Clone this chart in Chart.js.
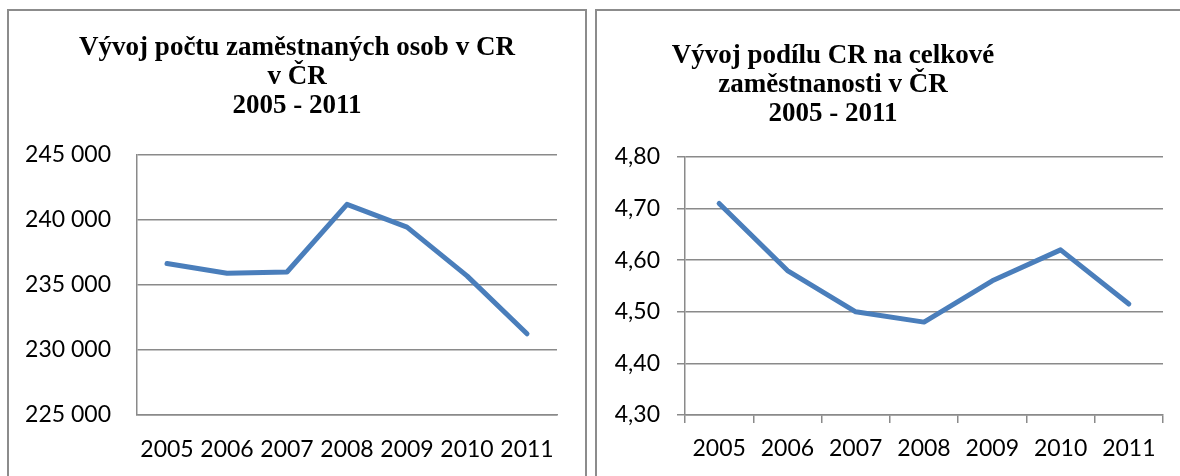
<!DOCTYPE html>
<html>
<head>
<meta charset="utf-8">
<script src="https://cdn.jsdelivr.net/npm/chart.js@4"></script>
<style>
  body { margin: 0; background: #fff; width: 1180px; height: 476px; overflow: hidden; position: relative; }
  .panel { position: absolute; border: 2px solid #8c8c8c; background: #fff; }
  #left-panel { left: 7px; top: 9px; width: 576px; height: 500px; }
  #right-panel { left: 595px; top: 9px; width: 700px; height: 500px; }
  canvas { position: absolute; }
  #left-chart { left: 8px; top: 10px; }
  #right-chart { left: 596px; top: 10px; }
</style>
</head>
<body>
<div class="panel" id="left-panel"></div>
<div class="panel" id="right-panel"></div>
<canvas id="left-chart" width="578" height="466"></canvas>
<canvas id="right-chart" width="584" height="466"></canvas>
<script>
// data
const years = ['2005', '2006', '2007', '2008', '2009', '2010', '2011'];
const employed = [236650, 235900, 236000, 241200, 239450, 235700, 231250];
const share = [4.71, 4.58, 4.50, 4.48, 4.56, 4.62, 4.515];

const leftTitle = ['Vývoj počtu zaměstnaných osob v CR', 'v ČR', '2005 - 2011'];
const rightTitle = ['Vývoj podílu CR na celkové', 'zaměstnanosti v ČR', '2005 - 2011'];

const gridGray = '#8a8a8a';
const lineBlue = '#4a7ebb';
const tickFont = { family: 'Lato', size: 23 };

// draws the bold serif title lines (Excel style)
const panelTitle = {
  id: 'panelTitle',
  afterDraw(chart, args, opts) {
    const ctx = chart.ctx;
    ctx.save();
    ctx.font = 'bold 27px "Liberation Serif"';
    ctx.fillStyle = '#000';
    ctx.textAlign = 'center';
    ctx.textBaseline = 'alphabetic';
    opts.lines.forEach((t, i) => {
      ctx.fillText(t, opts.x, opts.y + i * opts.lineHeight);
    });
    ctx.restore();
  }
};

function lineDataset(values) {
  return {
    data: values,
    borderColor: lineBlue,
    borderWidth: 5,
    pointRadius: 0,
    pointHoverRadius: 0,
    tension: 0,
    borderCapStyle: 'round',
    borderJoinStyle: 'round',
    fill: false
  };
}

// left chart: employed persons
new Chart(document.getElementById('left-chart'), {
  type: 'line',
  data: { labels: years, datasets: [lineDataset(employed)] },
  plugins: [panelTitle],
  options: {
    responsive: false,
    animation: false,
    layout: { padding: { left: 0, right: 29, top: 145, bottom: 0 } },
    plugins: {
      legend: { display: false },
      tooltip: { enabled: false },
      panelTitle: { lines: leftTitle, x: 289, y: 45, lineHeight: 29 }
    },
    scales: {
      x: {
        offset: true,
        grid: { drawOnChartArea: false, drawTicks: false },
        border: { display: true, color: gridGray, width: 1.5 },
        ticks: { color: '#000', font: tickFont, padding: 21, maxRotation: 0, autoSkip: false },
        afterFit: a => { a.height = 61; }
      },
      y: {
        min: 225000,
        max: 245000,
        grid: { color: gridGray, lineWidth: 1.5, drawTicks: false },
        border: { display: true, color: gridGray, width: 1.5 },
        ticks: {
          stepSize: 5000,
          color: '#000',
          font: tickFont,
          padding: 26,
          callback: v => String(v).replace(/\B(?=(\d{3})+(?!\d))/g, ' ')
        },
        afterFit: a => { a.width = 129; }
      }
    }
  }
});

// right chart: share of employment
new Chart(document.getElementById('right-chart'), {
  type: 'line',
  data: { labels: years, datasets: [lineDataset(share)] },
  plugins: [panelTitle],
  options: {
    responsive: false,
    animation: false,
    layout: { padding: { left: 0, right: 17, top: 147, bottom: 0 } },
    plugins: {
      legend: { display: false },
      tooltip: { enabled: false },
      panelTitle: { lines: rightTitle, x: 237, y: 53, lineHeight: 29 }
    },
    scales: {
      x: {
        offset: true,
        grid: { offset: true, drawOnChartArea: false, drawTicks: true, tickLength: 8, color: gridGray, lineWidth: 1.5 },
        border: { display: true, color: gridGray, width: 1.5 },
        ticks: { color: '#000', font: tickFont, padding: 12, maxRotation: 0, autoSkip: false },
        afterFit: a => { a.height = 61; }
      },
      y: {
        min: 4.3,
        max: 4.8,
        grid: { color: gridGray, lineWidth: 1.5, drawTicks: true, tickLength: 8 },
        border: { display: true, color: gridGray, width: 1.5 },
        ticks: {
          stepSize: 0.1,
          color: '#000',
          font: tickFont,
          padding: 17,
          callback: v => v.toFixed(2).replace('.', ',')
        },
        afterFit: a => { a.width = 89; }
      }
    }
  }
});
</script>
</body>
</html>
